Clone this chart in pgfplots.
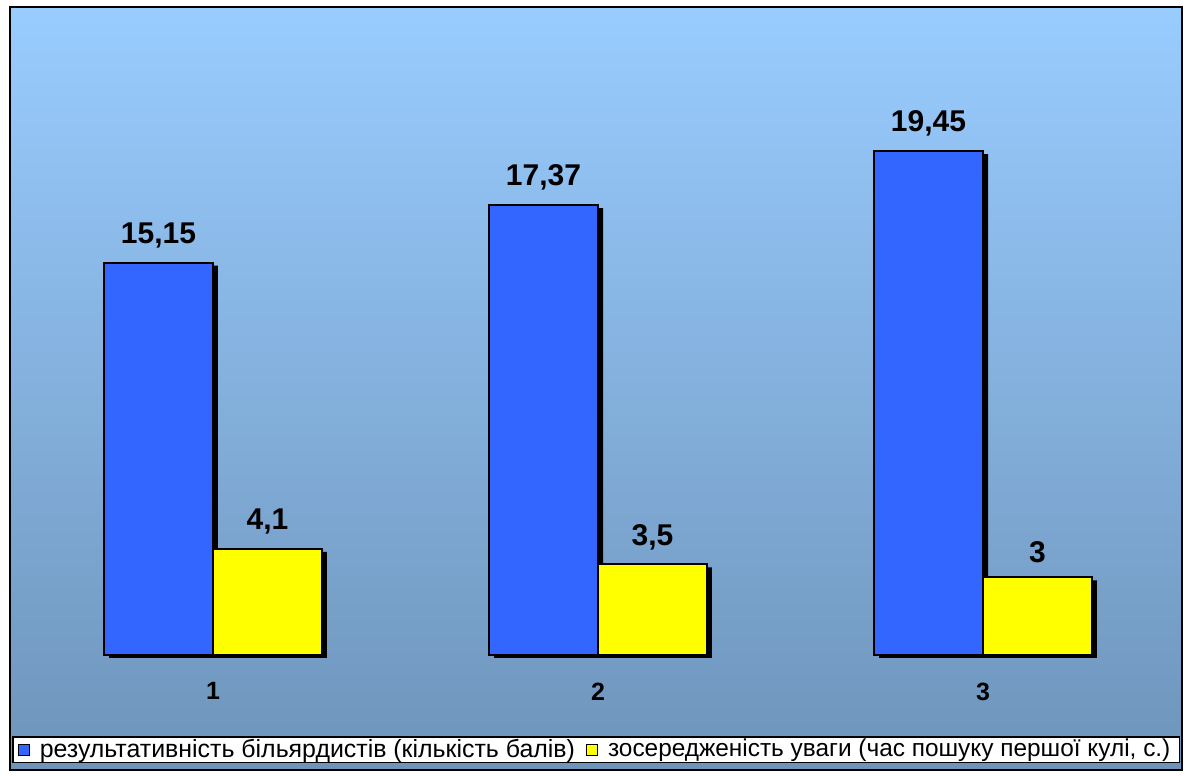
\documentclass[border=0pt]{standalone}
\usepackage{pgfplots}
\pgfplotsset{compat=1.18}
\usepackage{fontspec}
\setmainfont{Liberation Sans}
\definecolor{bgtop}{RGB}{153,204,255}
\definecolor{bgbottom}{RGB}{110,148,186}
\definecolor{barblue}{RGB}{51,102,255}
\definecolor{baryellow}{RGB}{255,255,0}

\pgfplotsset{
  barshadow/.style={fill=black, draw=none, forget plot, nodes near coords={},
    xshift=2.5pt, yshift=-1.5pt},
}

\begin{document}
\begin{tikzpicture}
\useasboundingbox (0,0) rectangle (594.5pt,388pt);
\fill[white] (0,0) rectangle (594.5pt,388pt);
% chart area with vertical gradient and black frame
\shade[top color=bgtop, bottom color=bgbottom] (5pt,3pt) rectangle (591pt,384.5pt);
\draw[line width=1pt] (5pt,3pt) rectangle (591pt,384.5pt);
\begin{axis}[
  at={(10.25pt,60.5pt)}, anchor=south west,
  scale only axis, width=577.5pt, height=259pt,
  xmin=-0.5, xmax=2.5, ymin=0, ymax=20,
  clip=false,
  ybar, bar width=0.283,
  axis line style={draw=none},
  tick style={draw=none},
  ytick=\empty,
  xtick={0,1,2}, xticklabels={1,2,3},
  xticklabel style={font=\fontsize{12.5}{14}\selectfont\bfseries, yshift=-6pt},
  /pgf/number format/use comma,
  /pgf/number format/assume math mode=true,
  every node near coord/.append style={font=\fontsize{15}{17}\selectfont\bfseries, text=black, yshift=3.5pt},
  legend style={at={(-0.00736,-0.2085)}, anchor=south west, draw=black,
    line width=0.75pt, fill=white, font=\fontsize{12.45}{14}\selectfont,
    inner xsep=2.5pt, inner ysep=0.5pt,
    nodes={inner ysep=0.5pt},
    /tikz/every odd column/.append style={column sep=3pt},
    /tikz/every even column/.append style={column sep=3.5pt}},
  legend columns=2,
]
% results of the players
\addplot[barshadow, bar shift=-0.1415] coordinates {(0,15.15) (1,17.37) (2,19.45)};
\addplot[fill=barblue, draw=black, line width=1pt, bar shift=-0.1415, nodes near coords,
  legend image code/.code={\draw[fill=barblue, draw=black, line width=0.5pt] (0pt,-2.75pt) rectangle (5.5pt,2.75pt);}]
  coordinates {(0,15.15) (1,17.37) (2,19.45)};
\addlegendentry{результативність більярдистів (кількість балів)}
% attention: search time for the first ball
\addplot[barshadow, bar shift=0.1415] coordinates {(0,4.1) (1,3.5) (2,3)};
\addplot[fill=baryellow, draw=black, line width=1pt, bar shift=0.1415, nodes near coords,
  legend image code/.code={\draw[fill=baryellow, draw=black, line width=0.5pt] (0pt,-2.75pt) rectangle (5.5pt,2.75pt);}]
  coordinates {(0,4.1) (1,3.5) (2,3)};
\addlegendentry{\fontsize{12.2}{14}\selectfont зосередженість уваги (час пошуку першої кулі, с.)}
\end{axis}
\end{tikzpicture}
\end{document}
